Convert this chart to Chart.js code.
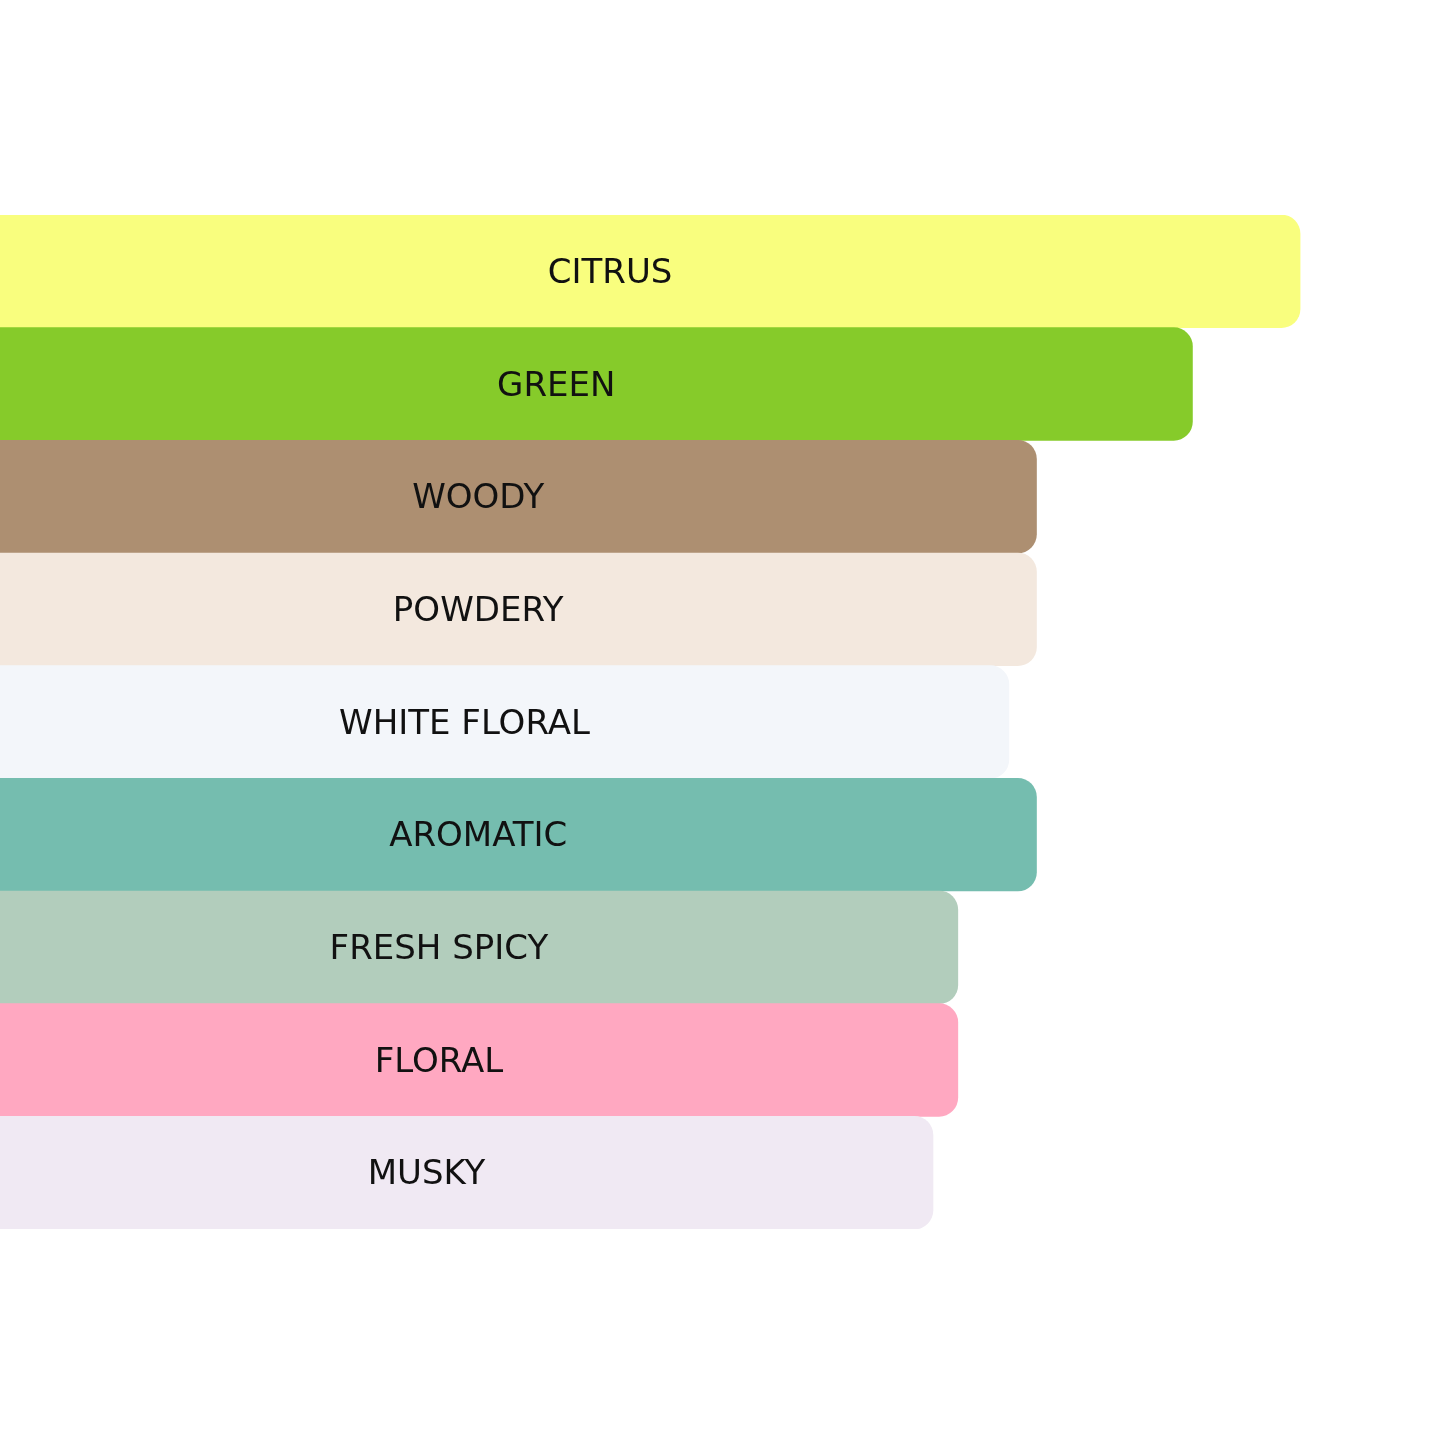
<!DOCTYPE html>
<html>
<head>
<meta charset="utf-8">
<script src="https://cdn.jsdelivr.net/npm/chart.js@4"></script>
<style>
  html, body { margin: 0; padding: 0; background: #fff; overflow: hidden; }
  /* bars begin a little off the left edge of the page */
  #chart { display: block; margin-left: -80px; }
</style>
</head>
<body>
<canvas id="chart" width="1525" height="1445"></canvas>
<script>
// accords, top to bottom
var accords = ["CITRUS", "GREEN", "WOODY", "POWDERY", "WHITE FLORAL", "AROMATIC", "FRESH SPICY", "FLORAL", "MUSKY"];
// relative strength (CITRUS = 100)
var strength = [100, 92.2, 80.9, 80.9, 78.9, 80.9, 75.2, 75.2, 73.4];
var colours = ["#f9fe7e", "#86cb2a", "#ad8f71", "#f3e8de", "#f3f6fa", "#75bdaf", "#b2cdbc", "#ffa8c1", "#f0e9f3"];

// write each accord name in the middle of its bar
var barLabels = {
    id: 'barLabels',
    afterDatasetsDraw: function (chart) {
        var ctx = chart.ctx;
        var bars = chart.getDatasetMeta(0).data;
        ctx.save();
        ctx.font = '34px "DejaVu Sans"';
        ctx.fillStyle = '#111';
        ctx.textAlign = 'center';
        ctx.textBaseline = 'middle';
        for (var i = 0; i < bars.length; i++) {
            var b = bars[i];
            ctx.fillText(accords[i], (b.x + b.base) / 2, b.y + 3);
        }
        ctx.restore();
    }
};

var chart = new Chart(document.getElementById("chart"), {
    type: 'bar',
    data: {
        labels: accords,
        datasets: [{
            data: strength,
            backgroundColor: colours,
            borderWidth: 0,
            borderRadius: 19,
            borderSkipped: 'start',
            categoryPercentage: 1,
            barPercentage: 1
        }]
    },
    options: {
        indexAxis: 'y',
        responsive: false,
        animation: false,
        devicePixelRatio: 1,
        layout: { padding: { top: 215, bottom: 216, left: 0, right: 0 } },
        scales: {
            x: { display: false, min: 0, max: 110.5 },
            y: { display: false }
        },
        plugins: {
            legend: { display: false },
            tooltip: { enabled: false }
        }
    },
    plugins: [barLabels]
});
</script>
</body>
</html>
